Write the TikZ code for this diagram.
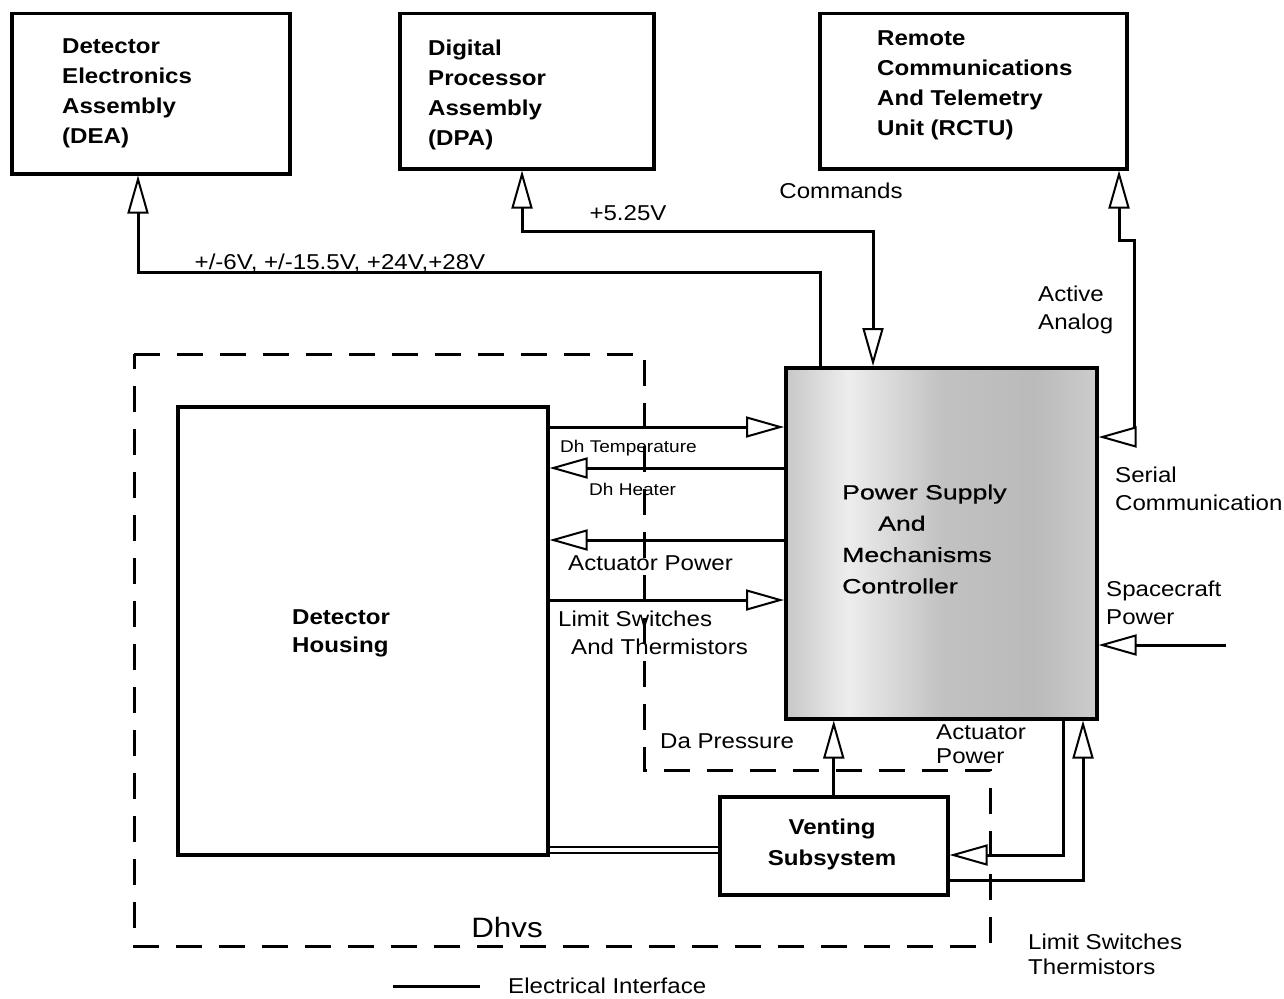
\documentclass[tikz,border=0pt]{standalone}
\usepackage{fontspec}
\setmainfont[FakeStretch=1.12]{Liberation Sans}
\newfontfamily\psmcfont[FakeStretch=1.3,FakeBold=0.8]{Liberation Sans}
\usetikzlibrary{arrows.meta,calc}
\pgfdeclarehorizontalshading{psmcshade}{100bp}{color(0bp)=(black!22); color(25bp)=(black!22); color(29bp)=(black!16); color(35bp)=(black!7); color(42bp)=(black!15); color(50bp)=(black!24); color(65bp)=(black!27); color(75bp)=(black!20); color(100bp)=(black!20)}
\begin{document}
\begin{tikzpicture}[x=1pt,y=-1pt,
  box/.style={draw,line width=3.5pt,anchor=north west,inner sep=0pt},
  wire/.style={line width=3pt},
  tip/.tip={Triangle[open,length=38pt,width=21pt,line width=2pt,fill=white]},
  oa/.style={-tip},
  oab/.style={tip-tip},
  lbl/.style={font=\fontsize{21.5}{28}\selectfont,inner sep=0pt,align=left,anchor=west},
  btxt/.style={font=\fontsize{21.5}{30}\selectfont\bfseries,inner sep=0pt,align=left,anchor=west},
  smalllbl/.style={font=\fontsize{17}{20}\selectfont,inner sep=0pt,anchor=west},
  dashline/.style={line width=3pt,dash pattern=on 26pt off 17pt}
]
\useasboundingbox (0,0) rectangle (1284,998);

% boxes
\node[box,minimum width=278pt,minimum height=160pt] (dea) at (10,12) {};
\node[box,minimum width=254pt,minimum height=155pt] (dpa) at (398,12) {};
\node[box,minimum width=307pt,minimum height=155pt] (rctu) at (818,12) {};
\node[box,minimum width=311pt,minimum height=351pt,shading=psmcshade] (psmc) at (784,366) {};
\node[box,minimum width=370pt,minimum height=448pt] (dh) at (176,405) {};
\node[box,minimum width=228pt,minimum height=98pt] (vent) at (718,795) {};

% box texts
\node[btxt] (deat) at (62,93) {Detector\\Electronics\\Assembly\\(DEA)};
\node[btxt] (dpat) at (428,95) {Digital\\Processor\\Assembly\\(DPA)};
\node[btxt] (rctut) at (877,85) {Remote\\Communications\\And Telemetry\\Unit (RCTU)};
\node[btxt,font=\fontsize{21.5}{28}\selectfont\bfseries] (dht) at (292,633) {Detector\\Housing};
\node[btxt,font=\fontsize{21.5}{31}\selectfont\bfseries,align=center,anchor=center] (ventt) at (832,844) {Venting\\Subsystem};
\node[inner sep=0pt,align=left,anchor=west,font=\psmcfont\fontsize{20.5}{31.3}\selectfont] (psmct) at (842,539) {Power Supply\\\hspace*{36pt}And\\Mechanisms\\Controller};

% connectors
\draw[wire,oa] ($(psmc.north west)+(36,0)$) -- ++(0,-94) -| ($(dea.south west)+(128,0)$);
\draw[wire,oab] ($(dpa.south west)+(124,0)$) -- ++(0,61) -| ($(psmc.north west)+(89,0)$);
\draw[wire,oab] ($(rctu.south west)+(301,0)$) -- ++(0,70) -- ++(15,0) |- ($(psmc.north east)+(0,71)$);
\coordinate (scp) at (1226,645);
\draw[wire,oa] (scp) -- (scp -| psmc.east);

\draw[wire,oa] ($(dh.north east)+(0,22)$) -- ($(psmc.north west)+(0,61)$);
\draw[wire,oa] ($(psmc.north west)+(0,102)$) -- ($(dh.north east)+(0,63)$);
\draw[wire,oa] ($(psmc.north west)+(0,174)$) -- ($(dh.north east)+(0,135)$);
\draw[wire,oa] ($(dh.north east)+(0,195)$) -- ($(psmc.north west)+(0,234)$);

\draw[wire,oa] (vent.north) -- (vent.north |- psmc.south);
\draw[wire,oa] ($(psmc.south west)+(279,0)$) |- ($(vent.north east)+(0,60)$);
\draw[wire,oa] ($(vent.north east)+(0,85)$) -| ($(psmc.south west)+(299,0)$);

\draw[line width=1.2pt] ($(dh.north east)+(0,442)$) -- ($(vent.north west)+(0,52)$);
\draw[line width=1.2pt] ($(dh.north east)+(0,448)$) -- ($(vent.north west)+(0,58)$);

% dashed enclosure
\draw[dashline] (134,354) -- (644,354) -- (644,770) -- (990,770) -- (990,946) -- (134,946) -- cycle;
\node[inner sep=0pt,font=\fontsize{28}{30}\selectfont] (dhvs) at (507,927) {Dhvs};

% labels
\node[lbl,anchor=center] (l1) at (340,263) {+/-6V, +/-15.5V, +24V,+28V};
\node[lbl,anchor=center] (l2) at (628,213) {+5.25V};
\node[lbl,anchor=center] (l3) at (841,191) {Commands};
\node[lbl] (l4) at (1038,310) {Active\\Analog};
\node[lbl] (l5) at (1115,489) {Serial\\Communication};
\node[lbl] (l6) at (1106,603) {Spacecraft\\Power};
\node[smalllbl] (l7) at (560,448) {Dh Temperature};
\node[smalllbl] (l8) at (589,489) {Dh Heater};
\node[lbl] (l9) at (568,563) {Actuator Power};
\node[lbl] (l10) at (558,619) {Limit Switches};
\node[lbl] (l11) at (571,647) {And Thermistors};
\node[lbl] (l12) at (660,741) {Da Pressure};
\node[lbl,font=\fontsize{21.5}{24}\selectfont] (l13) at (936,744) {Actuator\\Power};
\node[lbl,font=\fontsize{21.5}{25}\selectfont] (l14) at (1028,954) {Limit Switches\\Thermistors};

% legend
\coordinate (lg1) at (393,986);
\coordinate (lg2) at (480,986);
\draw[wire] (lg1) -- (lg2);
\node[lbl] (lgt) at (508,986) {Electrical Interface};
\end{tikzpicture}
\end{document}
